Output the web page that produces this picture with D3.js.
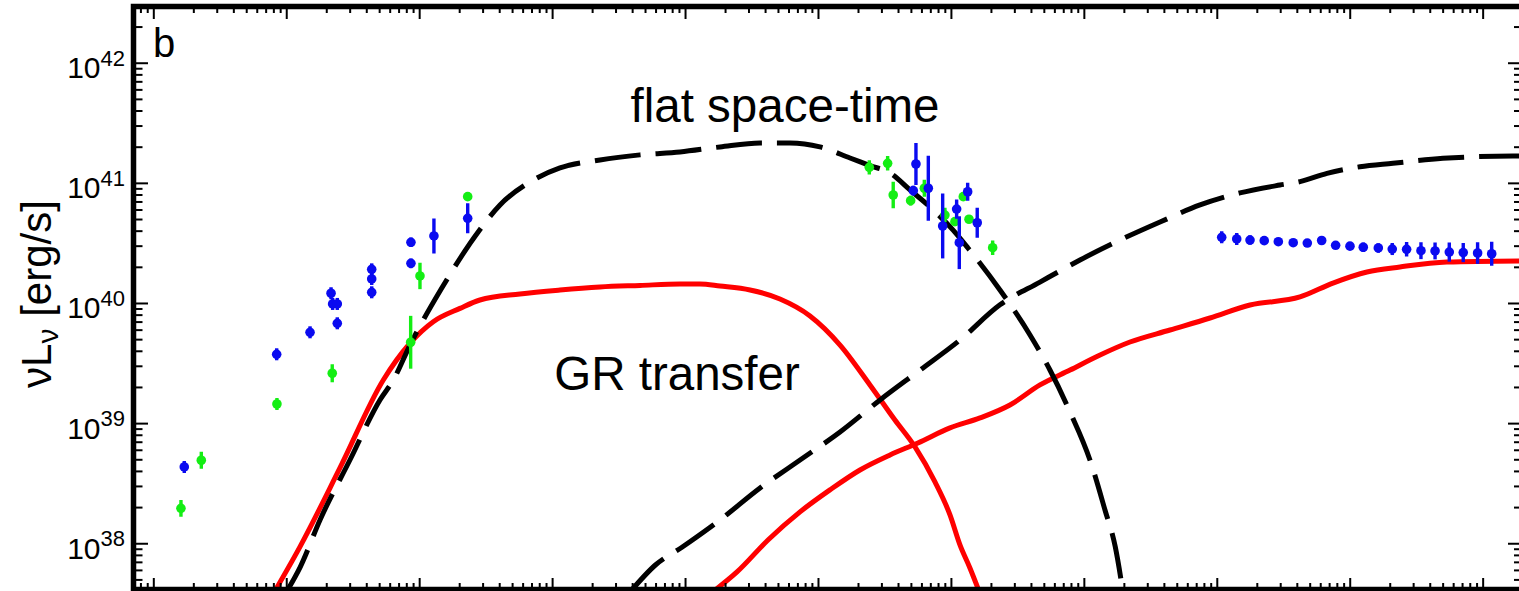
<!DOCTYPE html>
<html>
<head>
<meta charset="utf-8">
<script src="https://cdn.jsdelivr.net/npm/d3@7"></script>
<style>
  body { margin: 0; background: #fff; }
  svg { display: block; }
  text { font-family: "Liberation Sans", Arial, Helvetica, sans-serif; fill: #000; }
</style>
</head>
<body>
<svg id="chart" width="1519" height="591"></svg>
<script>
// All values are [log10(nu / Hz), log10(nu L_nu / erg s^-1)] (plus log error where given)

// Model curves: flat space-time (dashed black)
const flatSynchrotron = [
  [9.006, 37.603], [9.104, 37.80], [9.254, 38.194], [9.479, 38.693], [9.705, 39.193],
  [9.806, 39.36], [9.931, 39.650], [10.169, 40.122], [10.445, 40.593], [10.608, 40.816],
  [10.833, 41.007], [11.059, 41.124], [11.360, 41.191], [11.661, 41.233], [11.962, 41.257],
  [12.263, 41.299], [12.564, 41.332], [12.789, 41.332], [13.015, 41.299], [13.241, 41.207],
  [13.391, 41.144], [13.542, 41.082], [13.692, 40.941], [13.843, 40.799], [14.015, 40.608],
  [14.128, 40.458], [14.369, 40.108], [14.595, 39.734], [14.745, 39.442], [14.896, 39.093],
  [15.046, 38.693], [15.159, 38.277], [15.236, 37.972], [15.293, 37.603]
];
const flatCompton = [
  [11.593, 37.603], [11.777, 37.819], [11.977, 37.967], [12.263, 38.194], [12.564, 38.460],
  [12.865, 38.693], [13.166, 38.926], [13.467, 39.193], [13.768, 39.442], [14.068, 39.692],
  [14.369, 39.985], [14.670, 40.174], [14.971, 40.358], [15.272, 40.524], [15.573, 40.674],
  [15.874, 40.816], [16.174, 40.916], [16.475, 40.982], [16.626, 41.010], [16.829, 41.079],
  [17.077, 41.134], [17.325, 41.163], [17.701, 41.204], [18.228, 41.223], [18.295, 41.223]
];

// Model curves: GR transfer (solid red)
const grSynchrotron = [
  [8.915, 37.603], [9.104, 37.972], [9.404, 38.627], [9.730, 39.359], [9.931, 39.665],
  [10.106, 39.844], [10.307, 39.955], [10.457, 40.025], [10.758, 40.075], [11.059, 40.108],
  [11.360, 40.133], [11.661, 40.146], [11.962, 40.158], [12.112, 40.158], [12.263, 40.141],
  [12.489, 40.108], [12.714, 40.033], [12.940, 39.892], [13.166, 39.650], [13.391, 39.318],
  [13.579, 39.026], [13.730, 38.802], [13.880, 38.510], [13.993, 38.236], [14.068, 37.986],
  [14.143, 37.794], [14.211, 37.603]
];
const grCompton = [
  [12.218, 37.603], [12.391, 37.761], [12.624, 38.027], [12.865, 38.261], [13.090, 38.444],
  [13.316, 38.610], [13.542, 38.735], [13.752, 38.835], [13.993, 38.960], [14.219, 39.043],
  [14.444, 39.151], [14.670, 39.318], [14.896, 39.442], [15.122, 39.567], [15.347, 39.675],
  [15.648, 39.775], [15.949, 39.875], [16.250, 39.983], [16.626, 40.050], [16.874, 40.166],
  [17.130, 40.258], [17.378, 40.300], [17.731, 40.341], [18.295, 40.350]
];

// Observations, blue set: [logNu, logNuLnu, logError]
const blueRadio = [
  [8.233, 38.635, 0.05], [8.928, 39.573, 0.05], [9.179, 39.756, 0.05], [9.337, 40.081, 0.05],
  [9.349, 39.992, 0.05], [9.384, 39.992, 0.05], [9.384, 39.831, 0.05], [9.643, 40.280, 0.05],
  [9.643, 40.200, 0.05], [9.643, 40.089, 0.05], [9.938, 40.505, 0.04], [9.938, 40.330, 0.04],
  [10.111, 40.558, 0.146], [10.365, 40.705, 0.125]
];
const blueInfrared = [
  [13.737, 41.157, 0.175], [13.717, 40.935, 0.04], [13.830, 40.955, 0.27], [13.938, 40.641, 0.27],
  [14.043, 40.782, 0.08], [14.063, 40.502, 0.22], [14.126, 40.926, 0.075], [14.198, 40.668, 0.125]
];
const blueXray = [
  [16.037, 40.547, 0.05], [16.150, 40.533, 0.05], [16.250, 40.524, 0.04], [16.357, 40.519, 0.03],
  [16.463, 40.510, 0.0], [16.575, 40.502, 0.0], [16.681, 40.499, 0.0], [16.789, 40.520, 0.0],
  [16.894, 40.480, 0.02], [17.002, 40.473, 0.03], [17.102, 40.464, 0.04], [17.215, 40.458, 0.04],
  [17.320, 40.449, 0.05], [17.428, 40.447, 0.06], [17.536, 40.435, 0.07], [17.642, 40.433, 0.07],
  [17.749, 40.424, 0.08], [17.854, 40.420, 0.08], [17.962, 40.416, 0.09], [18.068, 40.410, 0.10]
];

// Observations, green set
const greenRadio = [
  [8.208, 38.291, 0.07], [8.361, 38.691, 0.07], [8.930, 39.159, 0.05], [9.346, 39.415, 0.075],
  [9.936, 39.673, 0.22], [10.006, 40.225, 0.11], [10.365, 40.885, 0.03]
];
const greenInfrared = [
  [13.386, 41.129, 0.06], [13.524, 41.163, 0.06], [13.566, 40.899, 0.11], [13.697, 40.852, 0.04],
  [13.800, 40.955, 0.07], [13.955, 40.732, 0.06], [14.030, 40.677, 0.02], [14.093, 40.885, 0.02],
  [14.136, 40.697, 0.02], [14.314, 40.460, 0.06]
];

// Axis ranges (log10) and tick decades
const xRangeExp = [7.851, 18.296];
const yRangeExp = [37.615, 42.468];
const xDecades = [8, 9, 10, 11, 12, 13, 14, 15, 16, 17, 18];
const yDecades = [38, 39, 40, 41, 42];

const labelFlat = "flat space-time";
const labelGR = "GR transfer";
const panelLabel = "b";

// Plot frame in pixels
const L = 133.5, R = 1522, T = 6.5, B = 589.5;

const svg = d3.select("#chart");
const x = d3.scaleLog().domain(xRangeExp.map(e => 10 ** e)).range([L, R]);
const y = d3.scaleLog().domain(yRangeExp.map(e => 10 ** e)).range([B, T]);

svg.append("defs").append("clipPath").attr("id", "plotClip")
  .append("rect").attr("x", L).attr("y", T).attr("width", R - L).attr("height", B - T);

const plot = svg.append("g").attr("clip-path", "url(#plotClip)");

const line = d3.line()
  .x(d => x(10 ** d[0]))
  .y(d => y(10 ** d[1]))
  .curve(d3.curveMonotoneX);

// Curves
[grSynchrotron, grCompton].forEach(c => {
  plot.append("path").datum(c).attr("d", line)
    .attr("fill", "none").attr("stroke", "#ff0000").attr("stroke-width", 5)
    .attr("stroke-linejoin", "round");
});
[flatSynchrotron, flatCompton].forEach(c => {
  plot.append("path").datum(c).attr("d", line)
    .attr("fill", "none").attr("stroke", "#000").attr("stroke-width", 5)
    .attr("stroke-dasharray", "46 15");
});

// Data points with error bars
function drawPoints(data, color) {
  const g = plot.append("g");
  g.selectAll("line").data(data.filter(d => d[2] > 0)).join("line")
    .attr("x1", d => x(10 ** d[0])).attr("x2", d => x(10 ** d[0]))
    .attr("y1", d => y(10 ** (d[1] + d[2]))).attr("y2", d => y(10 ** (d[1] - d[2])))
    .attr("stroke", color).attr("stroke-width", 3.4);
  g.selectAll("circle").data(data).join("circle")
    .attr("cx", d => x(10 ** d[0])).attr("cy", d => y(10 ** d[1]))
    .attr("r", 4.8).attr("fill", color);
}
drawPoints(greenRadio, "#14ee14");
drawPoints(greenInfrared, "#14ee14");
drawPoints(blueRadio, "#0a0af0");
drawPoints(blueInfrared, "#0a0af0");
drawPoints(blueXray, "#0a0af0");

// Ticks
function minorTicks(range) {
  const out = [];
  for (let e = Math.floor(range[0]); e <= Math.ceil(range[1]); e++) {
    for (let m = 2; m <= 9; m++) {
      const v = Math.log10(m) + e;
      if (v > range[0] && v < range[1]) out.push(10 ** v);
    }
  }
  return out;
}
const xMajor = xDecades.map(e => 10 ** e);
const yMajor = yDecades.map(e => 10 ** e);
const xMinor = minorTicks(xRangeExp);
const yMinor = minorTicks(yRangeExp);

function addAxis(axisFn, scale, vals, size, transform) {
  const g = svg.append("g").attr("transform", transform)
    .call(axisFn(scale).tickValues(vals).tickSize(size).tickSizeOuter(0).tickFormat(""));
  g.select(".domain").remove();
  g.selectAll(".tick line").attr("stroke", "#000").attr("stroke-width", 2);
}
addAxis(d3.axisBottom, x, xMajor, -11.5, `translate(0,${B})`);
addAxis(d3.axisBottom, x, xMinor, -6.5, `translate(0,${B})`);
addAxis(d3.axisTop, x, xMajor, -12.5, `translate(0,${T})`);
addAxis(d3.axisTop, x, xMinor, -6.5, `translate(0,${T})`);
addAxis(d3.axisLeft, y, yMajor, -14.5, `translate(${L},0)`);
addAxis(d3.axisLeft, y, yMinor, -9, `translate(${L},0)`);
addAxis(d3.axisRight, y, yMajor, -14, `translate(${R},0)`);
addAxis(d3.axisRight, y, yMinor, -8, `translate(${R},0)`);

// Frame
svg.append("rect").attr("x", L).attr("y", T).attr("width", R - L).attr("height", B - T)
  .attr("fill", "none").attr("stroke", "#000").attr("stroke-width", 5.5);

// Y tick labels 10^n
yDecades.forEach(e => {
  const t = svg.append("text").attr("x", 125).attr("y", y(10 ** e) + 15.5)
    .attr("text-anchor", "end");
  t.append("tspan").attr("font-size", 30).text("10");
  t.append("tspan").attr("font-size", 22).attr("dy", -12.5).text(String(e));
});

// Y axis title
const yt = svg.append("text")
  .attr("transform", "translate(51,294) rotate(-90)")
  .attr("text-anchor", "middle").attr("font-size", 42);
yt.append("tspan").text("\u03bdL");
yt.append("tspan").attr("font-size", 30).attr("dy", 7).text("\u03bd");
yt.append("tspan").attr("dy", -7).text(" [erg/s]");

// Annotations
svg.append("text").attr("x", 785).attr("y", 122).attr("text-anchor", "middle")
  .attr("font-size", 47.5).text(labelFlat);
svg.append("text").attr("x", 677).attr("y", 390).attr("text-anchor", "middle")
  .attr("font-size", 47.5).text(labelGR);
svg.append("text").attr("x", 153).attr("y", 57).attr("font-size", 40).text(panelLabel);
</script>
</body>
</html>
